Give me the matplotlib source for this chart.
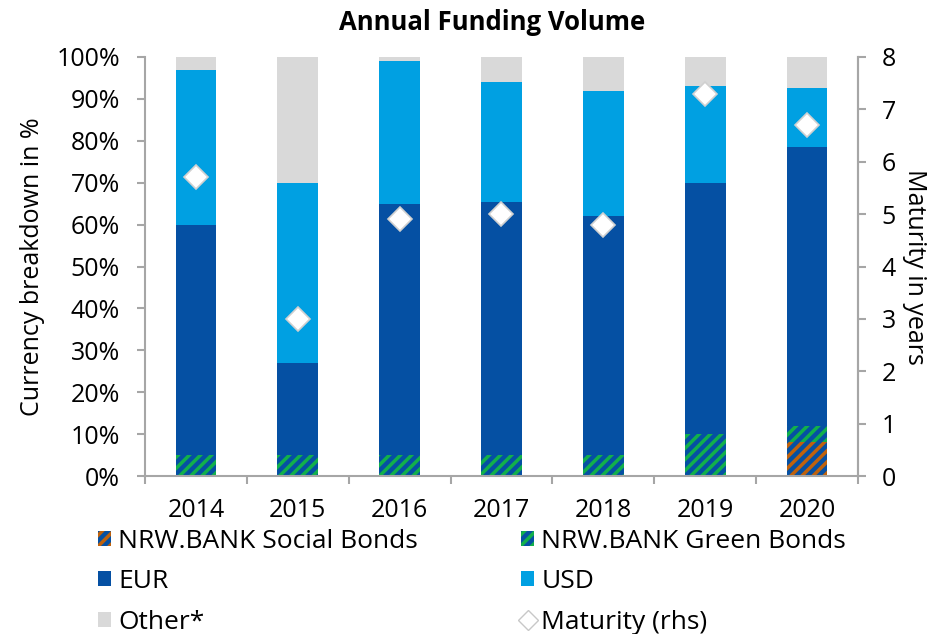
import numpy as np
import matplotlib
matplotlib.use("Agg")
import matplotlib.pyplot as plt
from matplotlib.patches import Patch
from matplotlib.lines import Line2D

plt.rcParams['font.family'] = ['Open Sans', 'DejaVu Sans']
plt.rcParams['hatch.linewidth'] = 2.5

years = ['2014', '2015', '2016', '2017', '2018', '2019', '2020']
# shares in % of annual funding volume
social = [0, 0, 0, 0, 0, 0, 8]
green = [5, 5, 5, 5, 5, 10, 4]
eur_total = [60, 27, 65, 65.3, 62, 70, 78.6]   # EUR incl. green/social
usd_top = [97, 70, 99, 94, 92, 93, 92.7]
maturity = [5.7, 3.0, 4.9, 5.0, 4.8, 7.3, 6.7]

c_eur = '#0550A3'
c_usd = '#00A0E2'
c_other = '#D9D9D9'
c_green = '#12B04B'
c_social = '#C0620C'
c_axis = '#A6A6A6'
fs = 18
hatch = '///'

x = np.arange(len(years))
social = np.array(social, dtype=float)
green = np.array(green, dtype=float)
eur_total = np.array(eur_total)
usd_top = np.array(usd_top)

fig = plt.figure(figsize=(9.29, 6.34), dpi=100)
ax = fig.add_axes([145 / 929, 1 - 476 / 634, 713 / 929, 419 / 634])

w = 0.4
ax.bar(x, social, w, color=c_eur, edgecolor=c_social, hatch=hatch, linewidth=0)
ax.bar(x, green, w, bottom=social, color=c_eur, edgecolor=c_green, hatch=hatch, linewidth=0)
base = social + green
ax.bar(x, eur_total - base, w, bottom=base, color=c_eur, linewidth=0)
ax.bar(x, usd_top - eur_total, w, bottom=eur_total, color=c_usd, linewidth=0)
ax.bar(x, 100 - usd_top, w, bottom=usd_top, color=c_other, linewidth=0)

ax.set_xlim(-0.5, len(years) - 0.5)
ax.set_ylim(0, 100)
ax.set_yticks(np.arange(0, 101, 10))
ax.set_yticklabels([f'{v}%' for v in range(0, 101, 10)])
ax.set_xticks(np.arange(-0.5, len(years), 1))
ax.set_xticklabels([])
ax.set_xticks(x, minor=True)
ax.set_xticklabels(years, minor=True)
ax.tick_params(axis='x', which='minor', length=0, pad=16, labelsize=fs)
ax.tick_params(axis='x', which='major', length=5.5, color=c_axis, width=1.5)
ax.tick_params(axis='y', length=6, color=c_axis, width=1.5, labelsize=fs, pad=12)

ax.spines['top'].set_visible(False)
for s in ['left', 'bottom', 'right']:
    ax.spines[s].set_color(c_axis)
    ax.spines[s].set_linewidth(1.5)
ax.set_ylabel('Currency breakdown in %', fontsize=fs, labelpad=8)
fig.text(492 / 929, 1 - 22 / 634, 'Annual Funding Volume', fontsize=18.5,
         fontweight='bold', ha='center', va='center')

ax2 = ax.twinx()
ax2.plot(x, maturity, linestyle='none', marker='D', markersize=12,
         markerfacecolor='white', markeredgecolor='#D0D0D0', markeredgewidth=1.2)
ax2.set_ylim(0, 8)
ax2.set_yticks(range(0, 9))
ax2.tick_params(axis='y', length=6, color=c_axis, width=1.5, labelsize=fs, pad=11)
for s in ['top', 'left', 'bottom']:
    ax2.spines[s].set_visible(False)
ax2.spines['right'].set_color(c_axis)
ax2.spines['right'].set_linewidth(1.5)
ax2.set_ylabel('Maturity in years', fontsize=fs, rotation=270, labelpad=22)

h_social = Patch(facecolor=c_eur, edgecolor=c_social, hatch=hatch, linewidth=0)
h_green = Patch(facecolor=c_eur, edgecolor=c_green, hatch=hatch, linewidth=0)
h_eur = Patch(facecolor=c_eur)
h_usd = Patch(facecolor=c_usd)
h_other = Patch(facecolor=c_other)
h_mat = Line2D([], [], linestyle='none', marker='D', markersize=10,
               markerfacecolor='white', markeredgecolor='#C8C8C8')
handles = [h_social, h_eur, h_other, h_green, h_usd, h_mat]
labels = ['NRW.BANK Social Bonds', 'EUR', 'Other*',
          'NRW.BANK Green Bonds', 'USD', 'Maturity (rhs)']
fig.legend(handles, labels, ncol=2, loc='upper left', bbox_to_anchor=(98 / 929, 1 - 529 / 634),
           frameon=False, fontsize=19, handlelength=0.5, handleheight=0.5,
           handletextpad=0.27, columnspacing=3.9, labelspacing=0.58, borderaxespad=0,
           borderpad=0)

fig.savefig('out.png', dpi=100)
